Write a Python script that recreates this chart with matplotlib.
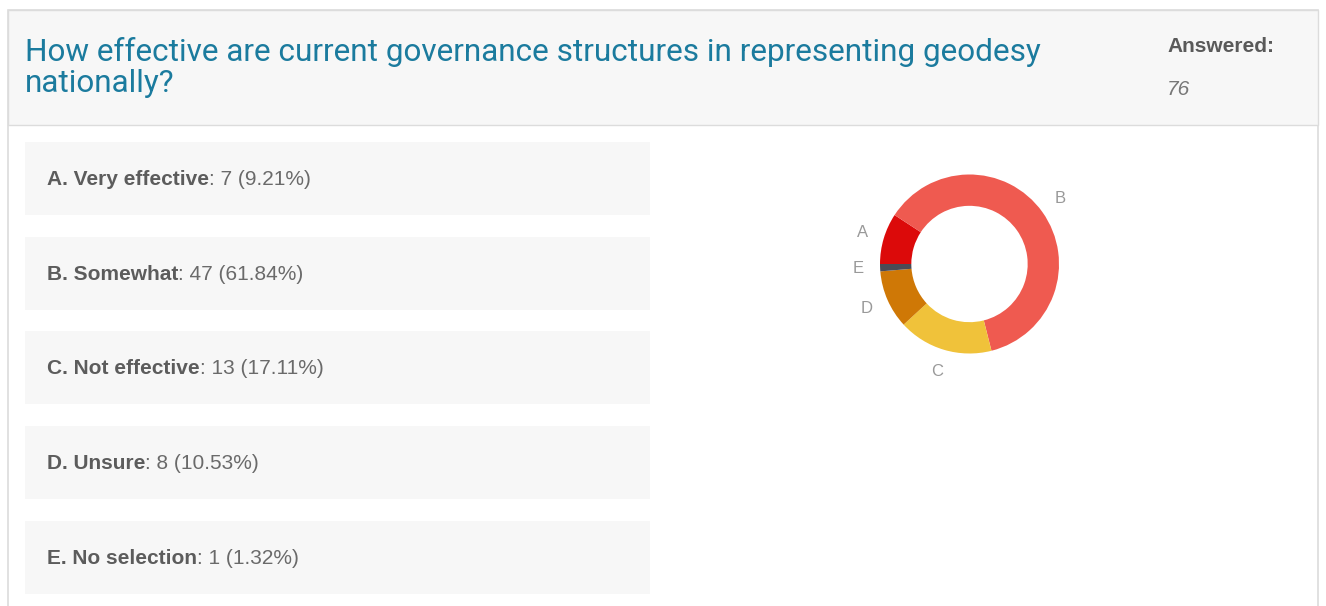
import matplotlib
matplotlib.use("Agg")
import matplotlib.pyplot as plt
from matplotlib.patches import Rectangle

# Survey question and answer data
question_lines = ["How effective are current governance structures in representing geodesy",
                  "nationally?"]
answered = 76
letters = ["A", "B", "C", "D", "E"]
options = ["Very effective", "Somewhat", "Not effective", "Unsure", "No selection"]
counts = [7, 47, 13, 8, 1]
percents = [9.21, 61.84, 17.11, 10.53, 1.32]
colors = ["#dc0a0a", "#ef5a50", "#f0c23a", "#cf7806", "#4b4b55"]

W, H = 1326, 606
fig = plt.figure(figsize=(W / 100, H / 100), dpi=100)
fig.patch.set_facecolor("white")

# Full-figure canvas in pixel units (y grows downward)
bg = fig.add_axes([0, 0, 1, 1])
bg.set_xlim(0, W)
bg.set_ylim(H, 0)
bg.axis("off")

# Card frame and header band
bg.add_patch(Rectangle((8, 10), 1310, 620, facecolor="white", edgecolor="#dcdcdc", lw=1.2))
bg.add_patch(Rectangle((8, 10), 1310, 115, facecolor="#f7f7f7", edgecolor="#dcdcdc", lw=1.0))

for line, base in zip(question_lines, [61, 92]):
    bg.text(25, base, line, fontsize=22.7, family="Roboto", color="#1b7b9e",
            va="baseline", ha="left")
bg.text(1167, 52, "Answered:", fontsize=15, family="Liberation Sans", weight="bold",
        color="#5a5a5a", va="baseline")
bg.text(1167, 95, str(answered), fontsize=15, family="Liberation Sans", style="italic",
        color="#777777", va="baseline")

# Answer rows
row_top = [142, 237, 331, 426, 521]
row_h = 73
fig.canvas.draw()
renderer = fig.canvas.get_renderer()
for top, letter, opt, n, p in zip(row_top, letters, options, counts, percents):
    bg.add_patch(Rectangle((25, top), 625, row_h, facecolor="#f7f7f7", edgecolor="none"))
    yc = top + row_h / 2 + 1
    t = bg.text(47, yc, f"{letter}. {opt}", fontsize=15, family="Liberation Sans",
                weight="bold", color="#5c5c5c", va="center", ha="left")
    w = t.get_window_extent(renderer=renderer).width
    bg.text(47 + w, yc, f": {n} ({p:.2f}%)", fontsize=15, family="Liberation Sans",
            color="#6a6a6a", va="center", ha="left")

# Donut chart
cx, cy, r = 969.5, 264, 89.5
pax = fig.add_axes([(cx - r) / W, (H - cy - r) / H, 2 * r / W, 2 * r / H])
wedges, texts = pax.pie(counts, labels=letters, colors=colors, startangle=180,
                        counterclock=False, labeldistance=1.25,
                        wedgeprops=dict(width=0.35, linewidth=0),
                        textprops=dict(fontsize=12, color="#999999",
                                       family="Liberation Sans"))
for t in texts:
    t.set_ha("center")
    t.set_va("center")
pax.set_xlim(-1, 1)
pax.set_ylim(-1, 1)
pax.set_aspect("equal")
pax.axis("off")

fig.savefig("out.png", dpi=100, facecolor="white")
